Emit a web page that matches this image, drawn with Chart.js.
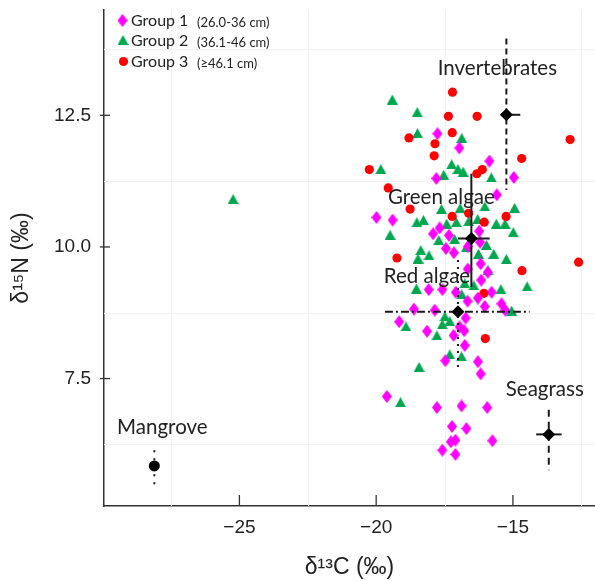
<!DOCTYPE html>
<html>
<head>
<meta charset="utf-8">
<script src="https://cdn.jsdelivr.net/npm/chart.js@4.4.1/dist/chart.umd.min.js"></script>
<style>
html, body { margin: 0; padding: 0; background: #fff; }
#wrap { width: 595px; height: 581px; }
</style>
</head>
<body>
<div id="wrap"><canvas id="isoChart" width="595" height="581"></canvas></div>
<script>
// Group 1 (26.0-36 cm): d13C / d15N
var g1C = [-17.76,-16.96,-15.86,-17.80,-14.97,-15.59,-19.99,-19.40,-17.68,-17.92,-17.34,-16.23,-16.20,-17.45,-17.16,-16.64,-16.18,-16.65,-15.92,-16.16,-17.09,-17.58,-18.08,-15.78,-16.28,-16.03,-16.66,-15.42,-15.28,-18.62,-17.86,-16.73,-19.16,-18.14,-16.95,-16.78,-17.17,-16.76,-17.47,-16.28,-16.18,-19.61,-17.78,-16.88,-15.94,-17.23,-16.70,-17.27,-17.10,-15.75,-17.58,-17.10];
var g1N = [12.15,11.88,11.63,11.30,11.32,10.99,10.56,10.51,10.36,10.25,10.22,10.30,10.09,9.97,9.89,10.01,9.68,9.58,9.52,9.37,9.14,9.19,9.19,9.14,9.03,8.87,8.97,8.92,8.80,8.82,8.80,8.65,8.58,8.40,8.48,8.41,8.32,8.13,7.84,7.82,7.59,7.16,6.95,6.98,6.95,6.59,6.55,6.30,6.33,6.32,6.14,6.06];

// Group 2 (36.1-46 cm)
var g2C = [-19.41,-18.50,-18.49,-16.87,-19.83,-17.24,-17.01,-16.82,-17.53,-15.79,-17.61,-16.93,-16.03,-14.94,-18.51,-18.27,-17.42,-17.07,-16.62,-16.29,-15.61,-15.29,-19.49,-17.71,-17.13,-14.99,-18.37,-18.47,-18.07,-15.97,-16.70,-16.26,-15.70,-15.24,-15.91,-14.48,-18.53,-16.76,-16.43,-16.87,-15.44,-15.05,-17.49,-17.31,-17.58,-18.91,-17.78,-17.31,-16.88,-18.43,-19.11,-25.23];
var g2N = [12.80,12.56,12.16,12.07,11.48,11.57,11.48,11.43,11.37,11.32,10.72,10.74,10.77,10.74,10.47,10.51,10.44,10.47,10.49,10.53,10.44,10.44,10.23,10.13,10.15,10.28,9.94,9.78,9.84,10.04,10.00,9.87,9.87,9.77,9.56,9.25,9.21,9.31,9.27,9.10,9.20,8.79,8.68,8.59,8.53,8.49,8.32,7.96,7.92,7.72,7.05,10.91];

// Group 3 (>=46.1 cm)
var g3C = [-17.21,-17.36,-16.31,-18.80,-17.22,-17.85,-17.88,-14.68,-12.91,-20.25,-16.32,-16.12,-19.56,-18.76,-17.22,-16.62,-15.25,-16.05,-19.24,-14.67,-12.60,-16.06,-16.01];
var g3N = [12.94,12.48,12.48,12.07,12.17,11.96,11.73,11.68,12.04,11.47,11.39,11.47,11.12,10.72,10.58,10.64,10.58,10.47,9.79,9.55,9.71,9.12,8.26];

// food sources, mean and range
var srcNames = ['Invertebrates', 'Green algae', 'Red algae', 'Seagrass', 'Mangrove'];
var srcC     = [-15.24, -16.52, -17.01, -13.69, -28.11];
var srcN     = [12.51, 10.16, 8.77, 6.44, 5.84];
var srcCLow  = [-15.44, -17.01, -19.68, -14.15, -28.11];
var srcCHigh = [-14.73, -15.85, -14.39, -13.22, -28.11];
var srcNLow  = [11.08, 9.24, 7.70, 5.76, 5.49];
var srcNHigh = [13.96, 11.39, 9.75, 6.91, 6.14];

var groupNames  = ['Group 1', 'Group 2', 'Group 3'];
var groupRanges = ['(26.0-36 cm)', '(36.1-46 cm)', '(\u226546.1 cm)'];

var xTicks = [-25, -20, -15];
var yTicks = [7.5, 10.0, 12.5];
var gridC = [-27.5, -22.5, -17.5, -12.5];
var gridN = [6.25, 8.75, 11.25, 13.75];

var MAGENTA = '#ff00ff', GREEN = '#00a650', RED = '#ff0000', INK = '#222222';

function pts(xs, ys) {
    return xs.map(function (x, i) { return {x: x, y: ys[i]}; });
}

function makeDiamond(color, w, h) {
    var c = document.createElement('canvas');
    c.width = w; c.height = h;
    var g = c.getContext('2d');
    g.fillStyle = color;
    g.beginPath();
    g.moveTo(w / 2, 0); g.lineTo(w, h / 2); g.lineTo(w / 2, h); g.lineTo(0, h / 2);
    g.closePath(); g.fill();
    return c;
}
function makeTriangle(color, w, h) {
    var c = document.createElement('canvas');
    c.width = w; c.height = h;
    var g = c.getContext('2d');
    g.fillStyle = color;
    g.beginPath();
    g.moveTo(w / 2, 0); g.lineTo(w, h); g.lineTo(0, h);
    g.closePath(); g.fill();
    return c;
}
var diamondImg = makeDiamond(MAGENTA, 10, 13);
var triangleImg = makeTriangle(GREEN, 11, 10);

// bar styles for the sources: [horizontal dash, vertical dash], null = no bar
var barDash = [
    [[], [6, 4]],
    [[], []],
    [[8, 3, 2, 3], [2, 5]],
    [[], [7, 5]],
    [null, [2, 6]]
];
var labelDx = [-9, -30, -31, -4, 8];
var labelDy = [-46, -41, -35, -45, -39];

var overlay = {
    id: 'overlay',
    beforeDatasetsDraw: function (chart) {
        var ctx = chart.ctx, a = chart.chartArea;
        var xs = chart.scales.x, ys = chart.scales.y;
        ctx.save();
        ctx.strokeStyle = '#f1f1f1';
        ctx.lineWidth = 1;
        gridC.forEach(function (v) {
            var px = Math.round(xs.getPixelForValue(v)) + 0.5;
            ctx.beginPath(); ctx.moveTo(px, a.top); ctx.lineTo(px, a.bottom); ctx.stroke();
        });
        gridN.forEach(function (v) {
            var py = Math.round(ys.getPixelForValue(v)) + 0.5;
            ctx.beginPath(); ctx.moveTo(a.left, py); ctx.lineTo(a.right, py); ctx.stroke();
        });
        // tick marks
        ctx.strokeStyle = '#333';
        ctx.lineWidth = 1.3;
        xTicks.forEach(function (v) {
            var px = xs.getPixelForValue(v);
            ctx.beginPath(); ctx.moveTo(px, a.bottom); ctx.lineTo(px, a.bottom - 11); ctx.stroke();
        });
        yTicks.forEach(function (v) {
            var py = ys.getPixelForValue(v);
            ctx.beginPath(); ctx.moveTo(a.left - 4, py); ctx.lineTo(a.left + 6, py); ctx.stroke();
        });
        ctx.restore();
    },
    beforeDatasetDraw: function (chart, args) {
        if (args.index !== 3) return;
        var ctx = chart.ctx, xs = chart.scales.x, ys = chart.scales.y;
        ctx.save();
        ctx.strokeStyle = '#1a1a1a';
        ctx.lineWidth = 2;
        for (var i = 0; i < srcNames.length; i++) {
            var cx = xs.getPixelForValue(srcC[i]), cy = ys.getPixelForValue(srcN[i]);
            if (barDash[i][0]) {
                ctx.setLineDash(barDash[i][0]);
                ctx.beginPath();
                ctx.moveTo(xs.getPixelForValue(srcCLow[i]), cy);
                ctx.lineTo(xs.getPixelForValue(srcCHigh[i]), cy);
                ctx.stroke();
            }
            if (barDash[i][1]) {
                ctx.setLineDash(barDash[i][1]);
                ctx.beginPath();
                ctx.moveTo(cx, ys.getPixelForValue(srcNHigh[i]));
                ctx.lineTo(cx, ys.getPixelForValue(srcNLow[i]));
                ctx.stroke();
            }
        }
        ctx.restore();
    },
    afterDatasetsDraw: function (chart) {
        var ctx = chart.ctx, xs = chart.scales.x, ys = chart.scales.y;
        ctx.save();
        ctx.fillStyle = INK;
        ctx.font = '20.5px Lato';
        ctx.textAlign = 'center';
        ctx.textBaseline = 'middle';
        for (var i = 0; i < srcNames.length; i++) {
            var cx = xs.getPixelForValue(srcC[i]), cy = ys.getPixelForValue(srcN[i]);
            ctx.fillText(srcNames[i], cx + labelDx[i], cy + labelDy[i]);
        }

        // legend, top-left corner of the plot
        var lx = chart.chartArea.left, ly = chart.chartArea.top;
        var rowY = [10.5, 31, 51.5];
        ctx.drawImage(diamondImg, lx + 13.5, ly + rowY[0] - 6.5);
        ctx.drawImage(triangleImg, lx + 13.5, ly + rowY[1] - 6);
        ctx.fillStyle = RED;
        ctx.beginPath(); ctx.arc(lx + 19.5, ly + rowY[2], 4.6, 0, Math.PI * 2); ctx.fill();
        ctx.fillStyle = INK;
        ctx.textAlign = 'left';
        for (var k = 0; k < groupNames.length; k++) {
            ctx.font = '16px Lato';
            ctx.fillText(groupNames[k], lx + 27, ly + rowY[k]);
            ctx.font = '13px Lato';
            ctx.fillText(groupRanges[k], lx + 93, ly + rowY[k] + 2);
        }
        ctx.restore();
    }
};

var ctx = document.getElementById('isoChart').getContext('2d');
var isoChart = new Chart(ctx, {
    type: 'scatter',
    data: {
        datasets: [{
            label: groupNames[0],
            data: pts(g1C, g1N),
            pointStyle: diamondImg,
            order: 1
        }, {
            label: groupNames[1],
            data: pts(g2C, g2N),
            pointStyle: triangleImg,
            order: 3
        }, {
            label: groupNames[2],
            data: pts(g3C, g3N),
            pointStyle: 'circle',
            pointRadius: 4.6,
            backgroundColor: RED,
            borderWidth: 0,
            order: 2
        }, {
            label: 'Sources',
            data: pts(srcC, srcN),
            pointStyle: ['rectRot', 'rectRot', 'rectRot', 'rectRot', 'circle'],
            pointRadius: [6.5, 6.5, 6.5, 6.5, 5.5],
            backgroundColor: '#000',
            borderWidth: 0,
            order: 0
        }]
    },
    options: {
        responsive: false,
        animation: false,
        events: [],
        layout: { autoPadding: false, padding: { top: 10, right: 0, left: 0, bottom: 0 } },
        plugins: {
            legend: { display: false },
            tooltip: { enabled: false }
        },
        scales: {
            x: {
                type: 'linear',
                min: -29.95,
                max: -12.0,
                afterFit: function (scale) {
                    scale.height = 75;
                    scale.paddingLeft = 0;
                    scale.paddingRight = 0;
                },
                afterBuildTicks: function (scale) {
                    scale.ticks = xTicks.map(function (v) { return {value: v}; });
                },
                grid: { display: false, drawTicks: false },
                border: { display: true, color: '#333', width: 1.5 },
                ticks: {
                    padding: 10,
                    color: INK,
                    font: { family: '"Liberation Sans", Arial, sans-serif', size: 19 },
                    callback: function (v) { return v < 0 ? '\u2212' + Math.abs(v) : String(v); }
                },
                title: {
                    display: true,
                    text: '\u03b4\u00b9\u00b3C (\u2030)',
                    color: INK,
                    padding: { top: 0, bottom: 0 },
                    font: { family: '"Liberation Sans", Arial, sans-serif', size: 23 }
                }
            },
            y: {
                type: 'linear',
                min: 5.08,
                max: 14.5,
                afterFit: function (scale) {
                    scale.width = 104;
                    scale.paddingTop = 0;
                    scale.paddingBottom = 0;
                },
                afterBuildTicks: function (scale) {
                    scale.ticks = yTicks.map(function (v) { return {value: v}; });
                },
                grid: { display: false, drawTicks: false },
                border: { display: true, color: '#333', width: 1.5 },
                ticks: {
                    padding: 13,
                    color: INK,
                    font: { family: '"Liberation Sans", Arial, sans-serif', size: 19 },
                    callback: function (v) { return v.toFixed(1); }
                },
                title: {
                    display: true,
                    text: '\u03b4\u00b9\u2075N (\u2030)',
                    color: INK,
                    padding: { top: 8, bottom: 0 },
                    font: { family: '"Liberation Sans", Arial, sans-serif', size: 23 }
                }
            }
        }
    },
    plugins: [overlay]
});
</script>
</body>
</html>
